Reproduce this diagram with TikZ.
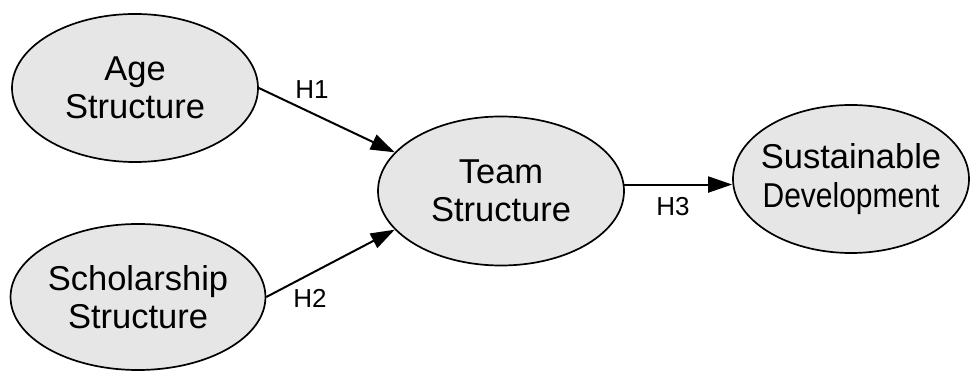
\documentclass[tikz,border=0pt]{standalone}
\usepackage{fontspec}
\setmainfont{Liberation Sans}
\usetikzlibrary{shapes.geometric,arrows.meta}
\definecolor{nodefill}{HTML}{E6E6E6}
\tikzset{
  construct/.style={ellipse, draw=black, line width=1.7pt, fill=nodefill, inner sep=0pt,
    align=center, font=\fontsize{34.5}{38.5}\selectfont},
  path/.style={line width=2pt, -{Triangle[length=24pt,width=16pt]}},
  hlabel/.style={font=\fontsize{26}{30}\selectfont, inner sep=0pt}
}
\begin{document}
\begin{tikzpicture}[x=1pt,y=1pt]
\useasboundingbox (0,0) rectangle (970,372);
\fill[white] (0,0) rectangle (970,372);
\node[construct, minimum width=246pt, minimum height=148pt] (age) at (135,284) {Age\\Structure};
\node[construct, minimum width=246pt, minimum height=146pt] (sch) at (138,75) {Scholarship\\Structure};
\node[construct, minimum width=246pt, minimum height=149pt] (team) at (501,181) {Team\\Structure};
\node[construct, inner xsep=-40pt, minimum width=236pt, minimum height=148pt] (sust) at (851,193) {Sustainable\\\scalebox{0.87}[1]{Development}};
\draw[path] (age.east) -- (team.160);
\draw[path] (sch.east) -- (team.200);
\draw[path] (team.3) -- (sust.west |- team.3);
\node[hlabel] (h1) at (312,282) {H1};
\node[hlabel] (h2) at (310,74) {H2};
\node[hlabel] (h3) at (673,165) {H3};
\end{tikzpicture}
\end{document}
